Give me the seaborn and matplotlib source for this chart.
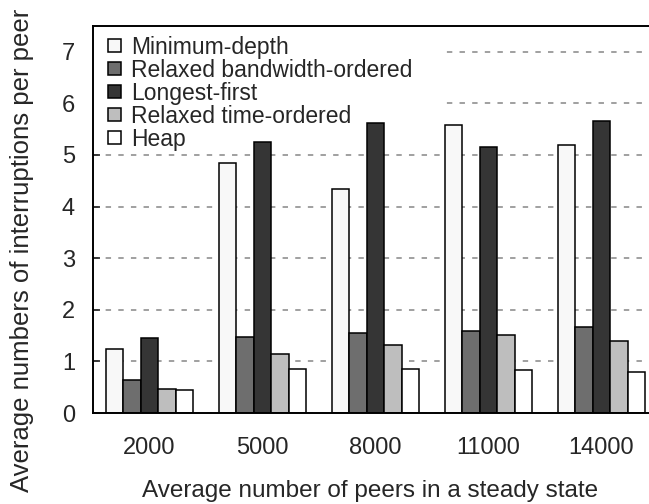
import matplotlib
matplotlib.use("Agg")
import matplotlib.pyplot as plt
import seaborn as sns
import pandas as pd
from matplotlib.patches import Rectangle

groups = ["2000", "5000", "8000", "11000", "14000"]
series = ["Minimum-depth", "Relaxed bandwidth-ordered", "Longest-first",
          "Relaxed time-ordered", "Heap"]
minimum_depth = [1.25, 4.84, 4.34, 5.58, 5.19]
relaxed_bandwidth = [0.63, 1.48, 1.55, 1.59, 1.67]
longest_first = [1.46, 5.26, 5.62, 5.15, 5.65]
relaxed_time = [0.46, 1.15, 1.32, 1.51, 1.39]
heap = [0.44, 0.86, 0.86, 0.83, 0.79]
colors = ["#f8f8f8", "#6e6e6e", "#353535", "#bebebe", "#ffffff"]

values = [minimum_depth, relaxed_bandwidth, longest_first, relaxed_time, heap]
rows = []
for s, vals in zip(series, values):
    for g, v in zip(groups, vals):
        rows.append({"group": g, "series": s, "value": v})
df = pd.DataFrame(rows)

sns.set_style("white")
plt.rcParams["font.family"] = ["Liberation Sans", "DejaVu Sans"]

fig = plt.figure(figsize=(6.49, 5.04), dpi=100)
ax = fig.add_axes([93 / 649, 91 / 504, 565 / 649, 387 / 504])

sns.barplot(data=df, x="group", y="value", hue="series", order=groups,
            hue_order=series, palette=colors, edgecolor="black",
            linewidth=1.1, width=0.77, gap=0, ax=ax, zorder=2)

ax.set_ylim(0, 7.5)
ax.set_xlim(-0.5, 4.5)
ax.set_yticks(range(0, 8))
ax.yaxis.grid(True, linestyle=(0, (3, 4)), color="#999999", linewidth=1.3)
ax.xaxis.grid(False)
ax.set_axisbelow(True)

ax.add_patch(Rectangle((0, 0.68), 0.618, 0.32, transform=ax.transAxes,
                       facecolor="white", edgecolor="none", zorder=1))

ax.set_xticks(range(len(groups)))
ax.set_xticklabels(groups)
ax.set_xticks([0.5, 1.5, 2.5, 3.5, 4.5], minor=True)
ax.tick_params(axis="x", which="major", length=0, pad=17, labelsize=17)
ax.tick_params(axis="x", which="minor", direction="in", length=5, width=1.2)
ax.tick_params(axis="y", direction="in", length=5, width=1.2, pad=13,
               labelsize=17, left=True)

for sp in ax.spines.values():
    sp.set_linewidth(1.4)
    sp.set_color("black")

ax.set_xlabel("Average number of peers in a steady state", fontsize=17.5)
ax.set_ylabel("Average numbers of interruptions per peer", fontsize=18.5)
ax.xaxis.set_label_coords(0.49, -0.172)
ax.yaxis.set_label_coords(-0.105, 0.419)

handles, labels = ax.get_legend_handles_labels()
leg = ax.legend(handles, labels, loc="upper left",
                bbox_to_anchor=(0.027, 0.975), frameon=False, fontsize=16.5,
                handlelength=0.55, handleheight=0.55, handletextpad=0.45,
                labelspacing=0.0, borderaxespad=0, borderpad=0)
leg.set_zorder(5)

fig.savefig("out.png", dpi=100)
